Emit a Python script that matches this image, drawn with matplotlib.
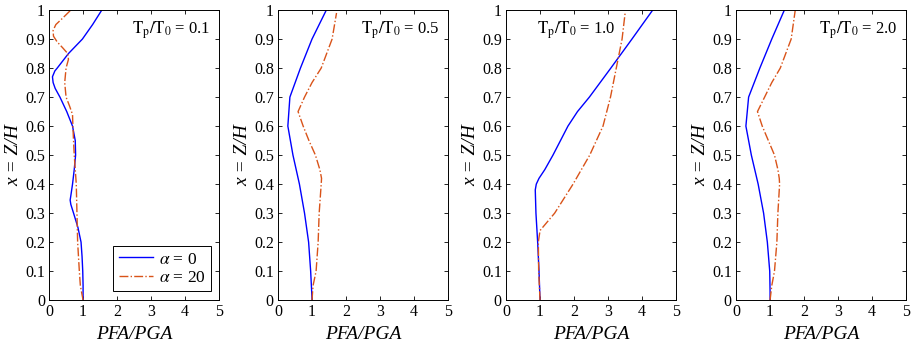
import matplotlib
matplotlib.use('Agg')
import matplotlib.pyplot as plt
import numpy as np

plt.rcParams['font.family'] = ['Liberation Serif', 'DejaVu Serif']
plt.rcParams['mathtext.fontset'] = 'stix'

# ratios T_p/T_0 shown in each panel
ratios = ['0.1', '0.5', '1.0', '2.0']

# panel 1 (T_p/T_0 = 0.1)
z1_a0 = [0, 0.05, 0.1, 0.15, 0.2, 0.25, 0.3, 0.33, 0.345, 0.36, 0.4, 0.45, 0.5, 0.55, 0.6, 0.65, 0.7,
         0.73, 0.75, 0.77, 0.79, 0.8, 0.85, 0.9, 0.95, 1.0]
p1_a0 = [1.0, 1.0, 0.99, 0.97, 0.94, 0.85, 0.72, 0.64, 0.62, 0.64, 0.69, 0.74, 0.78, 0.77, 0.69, 0.52,
         0.32, 0.18, 0.12, 0.10, 0.17, 0.24, 0.57, 0.98, 1.28, 1.55]
z1_a20 = [0, 0.05, 0.1, 0.2, 0.3, 0.4, 0.5, 0.6, 0.64, 0.67, 0.7, 0.75, 0.8, 0.83, 0.85, 0.87, 0.89, 0.91,
          0.93, 0.95, 0.97, 1.0]
p1_a20 = [1.0, 0.92, 0.89, 0.84, 0.82, 0.80, 0.74, 0.70, 0.69, 0.60, 0.50, 0.46, 0.50, 0.57, 0.55, 0.40,
          0.24, 0.13, 0.12, 0.20, 0.38, 0.64]

# panel 2 (T_p/T_0 = 0.5)
z2_a0 = [0, 0.03, 0.1, 0.2, 0.3, 0.4, 0.5, 0.6, 0.7, 0.8, 0.9, 1.0]
p2_a0 = [1.0, 0.99, 0.96, 0.90, 0.78, 0.63, 0.44, 0.29, 0.35, 0.66, 1.0, 1.42]
z2_a20 = [0, 0.05, 0.1, 0.2, 0.3, 0.4, 0.42, 0.45, 0.5, 0.55, 0.6, 0.65, 0.7, 0.75, 0.8, 0.9, 0.99]
p2_a20 = [1.0, 1.03, 1.12, 1.18, 1.21, 1.27, 1.28, 1.23, 1.10, 0.91, 0.74, 0.59, 0.78, 1.0, 1.27, 1.59, 1.72]

# panel 3 (T_p/T_0 = 1.0)
z3_a0 = [0, 0.1, 0.2, 0.3, 0.38, 0.4, 0.42, 0.45, 0.5, 0.55, 0.6, 0.65, 0.7, 0.8, 0.9, 1.0]
p3_a0 = [1.0, 0.97, 0.93, 0.88, 0.86, 0.89, 0.97, 1.14, 1.38, 1.60, 1.82, 2.10, 2.45, 3.08, 3.70, 4.31]
z3_a20 = [0, 0.1, 0.2, 0.24, 0.3, 0.4, 0.5, 0.6, 0.7, 0.8, 0.9, 0.99]
p3_a20 = [1.0, 0.96, 0.95, 1.0, 1.43, 1.97, 2.46, 2.85, 3.07, 3.24, 3.41, 3.50]

# panel 4 (T_p/T_0 = 2.0)
z4_a0 = [0, 0.03, 0.1, 0.2, 0.3, 0.4, 0.5, 0.6, 0.7, 0.8, 0.9, 1.0]
p4_a0 = [1.0, 1.0, 0.99, 0.92, 0.81, 0.65, 0.45, 0.29, 0.37, 0.70, 1.05, 1.42]
z4_a20 = [0, 0.05, 0.1, 0.2, 0.3, 0.4, 0.42, 0.45, 0.5, 0.6, 0.65, 0.7, 0.75, 0.8, 0.9, 1.0]
p4_a20 = [1.0, 1.05, 1.13, 1.20, 1.23, 1.28, 1.27, 1.23, 1.13, 0.77, 0.63, 0.84, 1.05, 1.30, 1.62, 1.74]

panels = [
    (z1_a0, p1_a0, z1_a20, p1_a20),
    (z2_a0, p2_a0, z2_a20, p2_a20),
    (z3_a0, p3_a0, z3_a20, p3_a20),
    (z4_a0, p4_a0, z4_a20, p4_a20),
]

fig = plt.figure(figsize=(9.15, 3.47), dpi=100)
lefts = [0.0536, 0.3038, 0.553, 0.8044]

for i, (za, pa, zb, pb) in enumerate(panels):
    ax = fig.add_axes([lefts[i], 0.135, 0.186, 0.836])
    ax.plot(pa, za, color='#0000ff', lw=1.0, label=r'$\alpha$ = 0')
    ax.plot(pb, zb, color='#d95319', lw=1.0, ls='-.', label=r'$\alpha$ = 20')
    ax.set_xlim(0, 5)
    ax.set_ylim(0, 1)
    ax.set_xticks([0, 1, 2, 3, 4, 5])
    ax.set_yticks(np.arange(0, 1.01, 0.1))
    ax.set_yticklabels(['0', '0.1', '0.2', '0.3', '0.4', '0.5', '0.6', '0.7', '0.8', '0.9', '1'])
    ax.tick_params(direction='in', top=True, right=True, length=3, width=0.6, labelsize=11.5, pad=3)
    for s in ax.spines.values():
        s.set_linewidth(0.7)
    ax.set_xlabel('PFA/PGA', style='italic', fontsize=14, labelpad=4)
    ax.set_ylabel('x = Z/H', style='italic', fontsize=14, labelpad=2)
    if i == 2:
        ax.text(0.18, 0.93, r'$\mathrm{T_p/T_0}$ = ' + ratios[i], transform=ax.transAxes,
                fontsize=12, ha='left', va='center')
    else:
        ax.text(0.95, 0.93, r'$\mathrm{T_p/T_0}$ = ' + ratios[i], transform=ax.transAxes,
                fontsize=12, ha='right', va='center')
    if i == 0:
        leg = ax.legend(loc='lower right', fontsize=12.5, fancybox=False, edgecolor='black',
                        framealpha=1, handlelength=2.0, borderaxespad=0.5, handletextpad=0.3,
                        labelspacing=0.15, borderpad=0.3)
        leg.get_frame().set_linewidth(0.7)

fig.savefig('out.png', dpi=100)
